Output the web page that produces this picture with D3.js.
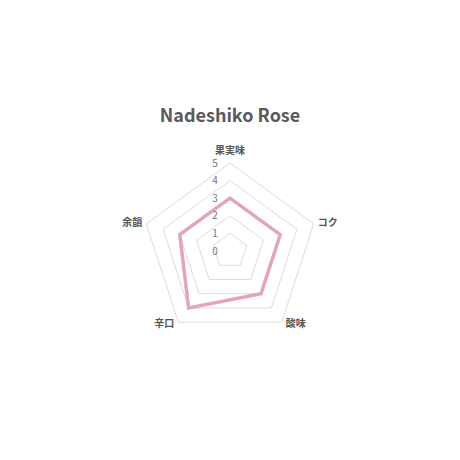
<!DOCTYPE html>
<html>
<head>
<meta charset="utf-8">
<script src="https://cdn.jsdelivr.net/npm/d3@7"></script>
<style>
  html, body { margin: 0; padding: 0; background: #fff; }
  svg text { font-family: "Noto Sans CJK JP", "Noto Sans", sans-serif; }
</style>
</head>
<body>
<script>
const title = "Nadeshiko Rose";
const axes = ["果実味", "コク", "酸味", "辛口", "余韻"];
const values = [3, 3, 3, 4, 3];
const ticks = [0, 1, 2, 3, 4, 5];

const width = 460, height = 460;
const cx = 230, cy = 251;
const radius = 88;

const svg = d3.select("body").append("svg").attr("width", width).attr("height", height);

let rScale = d3.scaleLinear().domain([0, 5]).range([0, radius]);
let aScale = d3.scaleLinear().domain([0, axes.length]).range([-Math.PI / 2, 1.5 * Math.PI]);

const pt = (i, v) => [cx + rScale(v) * Math.cos(aScale(i)), cy + rScale(v) * Math.sin(aScale(i))];

// grid pentagons (levels 1..5)
let grid = svg.append("g");
ticks.filter(t => t > 0).forEach(t => {
  grid.append("path")
    .attr("d", d3.line()(axes.map((a, i) => pt(i, t))) + "Z")
    .attr("fill", "none")
    .attr("stroke", "#dcdcdc")
    .attr("stroke-width", 1);
});

// data line
svg.append("path")
  .attr("d", d3.line()(values.map((v, i) => pt(i, v))) + "Z")
  .attr("fill", "none")
  .attr("stroke", "#e3a5bd")
  .attr("stroke-width", 3.5)
  .attr("stroke-linejoin", "miter");

// tick labels
svg.append("g").selectAll("text").data(ticks).join("text")
  .attr("x", cx - 15)
  .attr("y", d => cy - rScale(d))
  .attr("dy", "0.35em")
  .attr("text-anchor", "middle")
  .attr("font-size", 10)
  .attr("fill", "#777")
  .text(d => d);

// axis labels
svg.append("g").selectAll("text").data(axes).join("text")
  .each(function(d, i) {
    const a = aScale(i);
    const c = Math.cos(a), s = Math.sin(a);
    const [x, y] = pt(i, 5);
    let el = d3.select(this);
    if (Math.abs(c) < 0.1) {
      el.attr("x", x).attr("y", y - 13).attr("text-anchor", "middle");
    } else {
      el.attr("x", x + (c > 0 ? 4 : -4)).attr("y", y + (s > 0 ? 1 : -1))
        .attr("text-anchor", c > 0 ? "start" : "end");
    }
  })
  .attr("dy", "0.35em")
  .attr("font-size", 10)
  .attr("font-weight", "bold")
  .attr("fill", "#555")
  .text(d => d);

// title
svg.append("text")
  .attr("x", cx)
  .attr("y", 122)
  .attr("text-anchor", "middle")
  .attr("font-size", 18)
  .attr("font-weight", "bold")
  .attr("fill", "#5a5a5a")
  .text(title);
</script>
</body>
</html>
